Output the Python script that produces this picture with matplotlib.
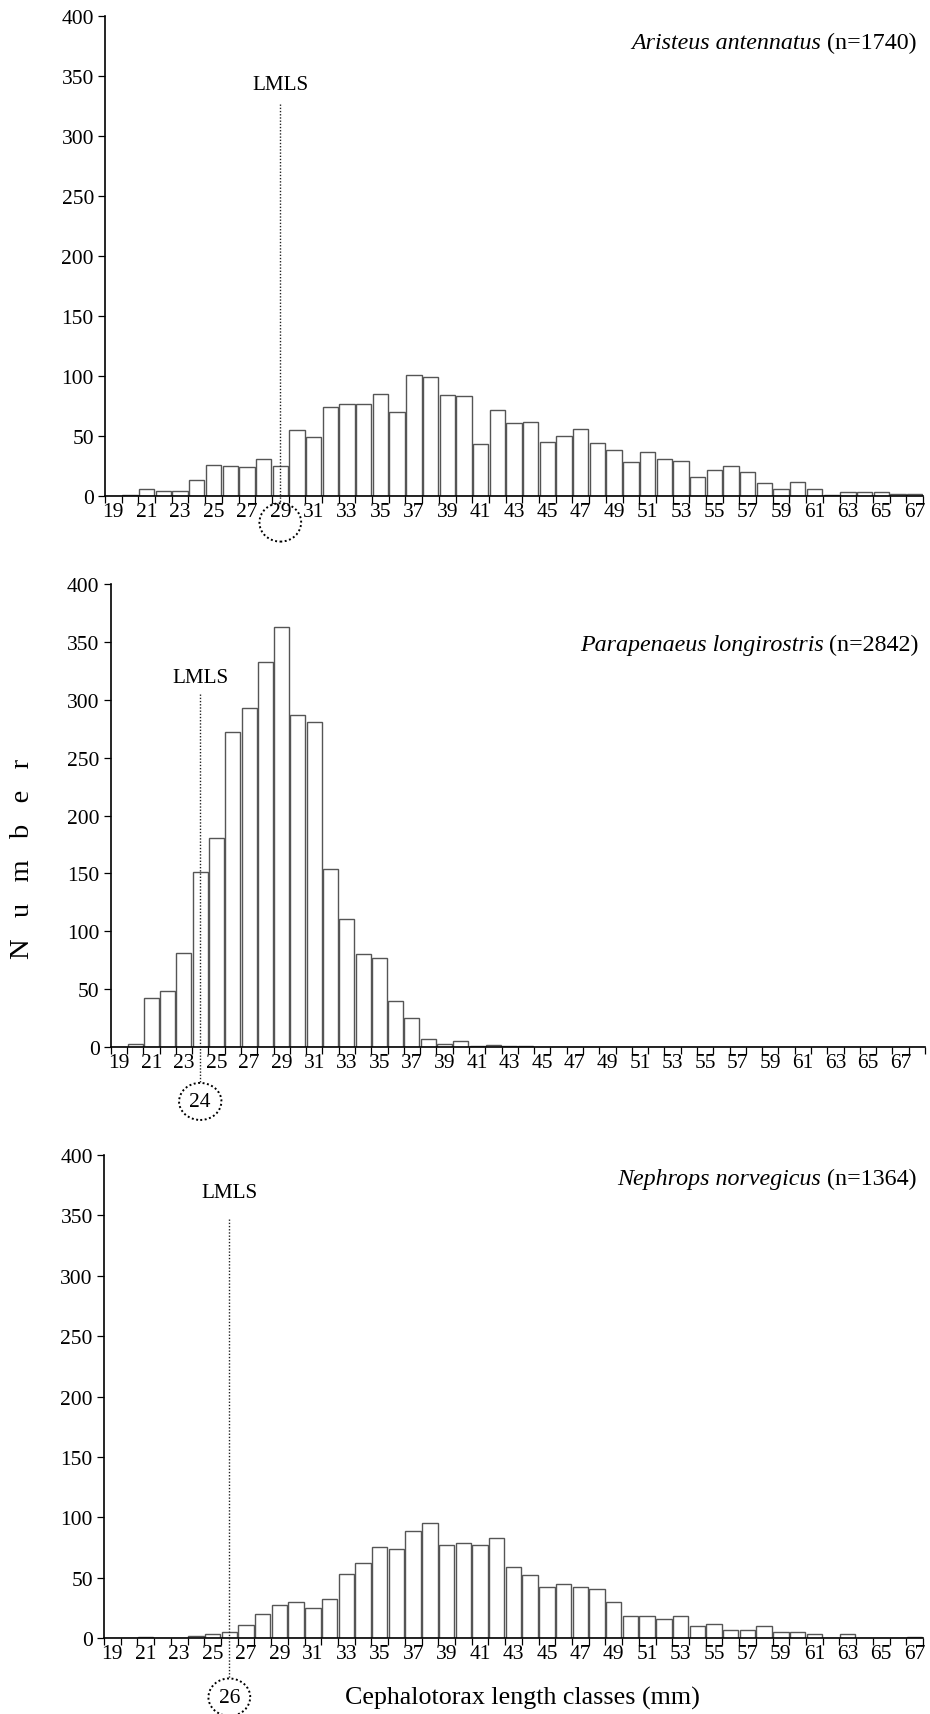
import matplotlib
matplotlib.use('Agg')
import matplotlib.pyplot as plt
from matplotlib.patches import Ellipse
import numpy as np

plt.rcParams['font.family'] = ['Liberation Serif', 'DejaVu Serif']

# length classes (mm)
classes_ar = list(range(19, 68))
classes_pa = list(range(19, 69))
classes_ne = list(range(19, 68))

# counts per class
aristeus = [0, 1, 6, 4, 4, 13, 26, 25, 24, 31, 25, 55, 49, 74, 77, 77, 85, 70, 101, 99,
            84, 83, 43, 72, 61, 62, 45, 50, 56, 44, 38, 28, 37, 31, 29, 16, 22, 25, 20, 11,
            6, 12, 6, 1, 3, 3, 3, 2, 2]
parapenaeus = [0, 3, 42, 48, 81, 151, 181, 272, 293, 333, 363, 287, 281, 154, 111, 80, 77, 40, 25, 7,
               3, 5, 1, 2, 1, 1, 0, 0, 0, 0, 0, 0, 0, 0, 0, 0, 0, 0, 0, 0,
               0, 0, 0, 0, 0, 0, 0, 0, 0, 0]
nephrops = [0, 0, 1, 0, 0, 2, 3, 5, 11, 20, 27, 30, 25, 32, 53, 62, 75, 74, 89, 95,
            77, 79, 77, 83, 59, 52, 42, 45, 42, 41, 30, 18, 18, 16, 18, 10, 12, 7, 7, 10,
            5, 5, 3, 0, 3, 0, 0, 0, 1]

species = ['Aristeus antennatus', 'Parapenaeus longirostris', 'Nephrops norvegicus']
n_total = [1740, 2842, 1364]
lmls = [29, 24, 26]

fig = plt.figure(figsize=(9.3, 17.15), dpi=100)
ax1 = fig.add_axes([0.1129, 0.7102, 0.8796, 0.2799])
ax2 = fig.add_axes([0.1190, 0.3889, 0.8756, 0.2700])
ax3 = fig.add_axes([0.1118, 0.0443, 0.8806, 0.2816])

tick_fs = 15.5


def draw_panel(ax, classes, counts, name, n, lm, title_y, lm_text_y, lm_top, circ_y, circ_w, circ_h,
               extra_label):
    x = np.array(classes)
    ax.bar(x, counts, width=0.92, color='white', edgecolor='#555555', linewidth=1.0, zorder=2)
    ax.set_xlim(x[0] - 0.5, x[-1] + 0.5)
    ax.set_ylim(0, 400)
    ax.set_yticks(range(0, 401, 50))
    ax.set_xticks(np.arange(x[0] - 0.5, x[-1] + 1))
    ax.set_xticklabels([])
    ax.set_xticks(x[::2], minor=True)
    ax.set_xticklabels([str(v) for v in x[::2]], minor=True)
    ax.tick_params(axis='x', which='major', length=5, width=0.9, direction='out')
    ax.tick_params(axis='x', which='minor', length=0, pad=4, labelsize=tick_fs)
    ax.tick_params(axis='y', length=5, width=0.9, pad=3, labelsize=tick_fs)
    for s in ['top', 'right']:
        ax.spines[s].set_visible(False)
    for s in ['left', 'bottom']:
        ax.spines[s].set_linewidth(1.2)

    # title: italic species name followed by (n=...)
    t = ax.text(x[-1] + 0.1, title_y, '(n=%d)' % n, ha='right', va='center', fontsize=17.3)
    ax.annotate(name, xy=(0, 0.5), xycoords=t, xytext=(-4, 0), textcoords='offset points',
                ha='right', va='center', fontsize=17.3, style='italic')

    # LMLS marker
    ax.text(lm, lm_text_y, 'LMLS', ha='center', va='center', fontsize=15.2)
    ax.plot([lm, lm], [lm_top, circ_y + circ_h / 2], ls=(0, (1, 1.3)), color='#222222', lw=1.0,
            clip_on=False, zorder=3)
    ax.add_patch(Ellipse((lm, circ_y), circ_w, circ_h, fill=False, ls=(0, (1, 1.3)), lw=1.4,
                         edgecolor='black', clip_on=False))
    if extra_label:
        ax.text(lm, circ_y, str(lm), ha='center', va='center', fontsize=tick_fs, clip_on=False)


draw_panel(ax1, classes_ar, aristeus, species[0], n_total[0], lmls[0], 378, 343, 327, -22, 2.5, 32, False)
draw_panel(ax2, classes_pa, parapenaeus, species[1], n_total[1], lmls[1], 348, 319, 305, -47, 2.6, 32, True)
draw_panel(ax3, classes_ne, nephrops, species[2], n_total[2], lmls[2], 381, 369, 347, -49, 2.5, 31, True)

fig.text(0.024, 1 - 859 / 1715, 'N   u   m   b   e   r', rotation=90, ha='center', va='center',
         fontsize=20.5)
fig.text(522 / 930, 1 - 1698 / 1715, 'Cephalotorax length classes (mm)', ha='center', va='center',
         fontsize=18.7)

fig.savefig('out.png', dpi=100)
